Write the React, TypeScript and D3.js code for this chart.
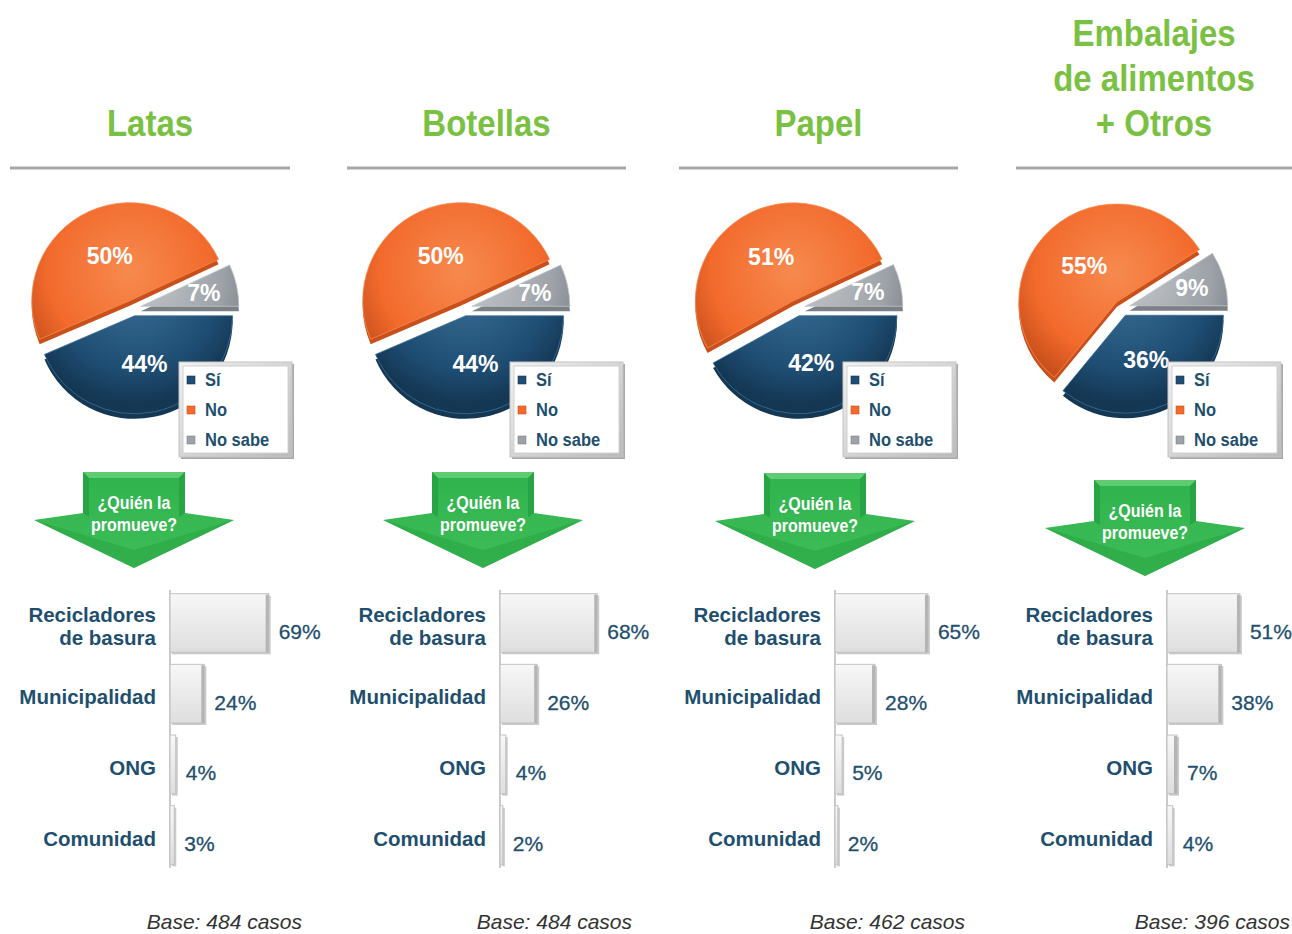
import React, { useEffect, useRef } from 'react';
import * as d3 from 'd3';

// Títulos de cada panel (una entrada por línea)
const titles = [['Latas'], ['Botellas'], ['Papel'], ['Embalajes', 'de alimentos', '+ Otros']];

// Torta: ¿recicla?
const pieLabels = ['Sí', 'No', 'No sabe'];
const siValues = [44, 44, 42, 36];
const noValues = [50, 50, 51, 55];
const noSabeValues = [7, 7, 7, 9];

// Barras: ¿quién la promueve?
const promoters = ['Recicladores de basura', 'Municipalidad', 'ONG', 'Comunidad'];
const recicladoresValues = [69, 68, 65, 51];
const municipalidadValues = [24, 26, 28, 38];
const ongValues = [4, 4, 5, 7];
const comunidadValues = [3, 2, 2, 4];

const baseCases = [484, 484, 462, 396];

// Posiciones de cada panel (solo layout)
const panels = [
  { lineX: [10, 290], pieX: 133, arrowX: 134, arrowY: 472, axisX: 170, baseX: 302 },
  { lineX: [347, 626], pieX: 464, arrowX: 483, arrowY: 472, axisX: 500, baseX: 632 },
  { lineX: [679, 958], pieX: 797, arrowX: 815, arrowY: 473, axisX: 835, baseX: 965 },
  { lineX: [1016, 1292], pieX: 1122, arrowX: 1145, arrowY: 480, axisX: 1167, baseX: 1290 }
];

const COLORS = {
  title: '#7ac143',
  text: '#1f4f6e',
  slices: ['#1f4e74', '#f26a2c', '#9da2a8'],
  slicesLight: ['#3b6f96', '#f78a4f', '#c4c8cc'],
  slicesDark: ['#143754', '#c9501b', '#7b8086'],
  line: '#a8a8a8'
};

const SANS = "'Liberation Sans', Arial, sans-serif";

const W = 1292;
const H = 934;
const R = 98;
const PIE_Y = 308;
const EXPLODE = 8;
const DEPTH = 5;

const App = () => {
  const svgRef = useRef<SVGSVGElement>(null);

  useEffect(() => {
    const svg = d3.select(svgRef.current);
    svg.selectAll('*').remove();
    svg.attr('width', W).attr('height', H);

    const defs = svg.append('defs');

    // Gradientes de las porciones
    COLORS.slices.forEach((c, i) => {
      const rg = defs.append('radialGradient')
        .attr('id', `slice-${i}`)
        .attr('gradientUnits', 'userSpaceOnUse')
        .attr('cx', 0).attr('cy', -R * 0.3).attr('r', R * 1.2);
      rg.append('stop').attr('offset', '0%').attr('stop-color', COLORS.slicesLight[i]);
      rg.append('stop').attr('offset', '70%').attr('stop-color', c);
      rg.append('stop').attr('offset', '100%').attr('stop-color', COLORS.slicesDark[i]);
    });

    const barGrad = defs.append('linearGradient')
      .attr('id', 'bar-grad').attr('x1', 0).attr('y1', 0).attr('x2', 0).attr('y2', 1);
    barGrad.append('stop').attr('offset', '0%').attr('stop-color', '#f7f7f7');
    barGrad.append('stop').attr('offset', '100%').attr('stop-color', '#dedede');

    const arrowGrad = defs.append('linearGradient')
      .attr('id', 'arrow-grad').attr('x1', 0).attr('y1', 0).attr('x2', 0).attr('y2', 1);
    arrowGrad.append('stop').attr('offset', '0%').attr('stop-color', '#2fb34c');
    arrowGrad.append('stop').attr('offset', '100%').attr('stop-color', '#3fbd58');

    const frameGrad = defs.append('linearGradient')
      .attr('id', 'frame-grad').attr('x1', 0).attr('y1', 0).attr('x2', 1).attr('y2', 1);
    frameGrad.append('stop').attr('offset', '0%').attr('stop-color', '#f2f2f2');
    frameGrad.append('stop').attr('offset', '100%').attr('stop-color', '#b9b9b9');

    const pie = d3.pie<number>()
      .sort(null)
      .startAngle(Math.PI / 2)
      .endAngle(Math.PI / 2 + 2 * Math.PI);

    const arc = d3.arc<d3.PieArcDatum<number>>()
      .innerRadius(0)
      .outerRadius(R);

    const x = d3.scaleLinear().domain([0, 100]).range([0, 143]);
    const y = d3.scaleBand<string>()
      .domain(promoters)
      .range([588, 870])
      .paddingInner(0.17)
      .paddingOuter(0.08);

    panels.forEach((p, k) => {
      const g = svg.append('g');

      // Título (letra alta y angosta: se estira en vertical)
      const lines = titles[k];
      const titleX = (p.lineX[0] + p.lineX[1]) / 2;
      lines.forEach((t, li) => {
        g.append('text')
          .attr('transform', `translate(${titleX},${136 - (lines.length - 1 - li) * 45}) scale(1,1.12)`)
          .attr('text-anchor', 'middle')
          .attr('font-family', SANS)
          .attr('font-weight', 'bold')
          .attr('font-size', 33)
          .attr('fill', COLORS.title)
          .text(t);
      });

      g.append('line')
        .attr('x1', p.lineX[0]).attr('x2', p.lineX[1])
        .attr('y1', 168).attr('y2', 168)
        .attr('stroke', COLORS.line)
        .attr('stroke-width', 3);

      // Torta
      const values = [siValues[k], noValues[k], noSabeValues[k]];
      const arcs = pie(values);
      const pieG = g.append('g').attr('transform', `translate(${p.pieX},${PIE_Y})`);

      arcs.forEach((a, i) => {
        const mid = (a.startAngle + a.endAngle) / 2;
        const dx = Math.sin(mid) * EXPLODE;
        const dy = -Math.cos(mid) * EXPLODE;
        const sg = pieG.append('g').attr('transform', `translate(${dx},${dy})`);
        sg.append('path')
          .attr('d', arc(a))
          .attr('transform', `translate(0,${DEPTH})`)
          .attr('fill', COLORS.slicesDark[i]);
        sg.append('path')
          .attr('d', arc(a))
          .attr('fill', `url(#slice-${i})`)
          .attr('stroke', COLORS.slicesLight[i])
          .attr('stroke-width', 0.8);

        const lr = a.data < 15 ? R * 0.66 : R * 0.5;
        sg.append('text')
          .attr('x', Math.sin(mid) * lr)
          .attr('y', -Math.cos(mid) * lr)
          .attr('dy', '0.36em')
          .attr('text-anchor', 'middle')
          .attr('font-family', SANS)
          .attr('font-weight', 'bold')
          .attr('font-size', 23)
          .attr('fill', '#ffffff')
          .text(`${a.data}%`);
      });

      // Leyenda
      const lx = p.pieX + 46;
      const ly = 362;
      const legend = g.append('g').attr('transform', `translate(${lx},${ly})`);
      legend.append('rect')
        .attr('x', 2).attr('y', 2).attr('width', 113).attr('height', 95)
        .attr('fill', '#a9a9a9');
      legend.append('rect')
        .attr('width', 113).attr('height', 95)
        .attr('fill', 'url(#frame-grad)')
        .attr('stroke', '#c4c4c4');
      legend.append('rect')
        .attr('x', 4).attr('y', 4).attr('width', 105).attr('height', 87)
        .attr('fill', '#ffffff')
        .attr('stroke', '#d0d0d0');
      pieLabels.forEach((lab, i) => {
        const ry = 18 + i * 30;
        legend.append('rect')
          .attr('x', 8).attr('y', ry - 4)
          .attr('width', 8).attr('height', 8)
          .attr('fill', COLORS.slices[i])
          .attr('stroke', COLORS.slicesDark[i])
          .attr('stroke-width', 0.6);
        legend.append('text')
          .attr('transform', `translate(26,${ry + 6}) scale(1,1.1)`)
          .attr('font-family', SANS)
          .attr('font-weight', 'bold')
          .attr('font-size', 16.5)
          .attr('fill', COLORS.text)
          .text(lab);
      });

      // Flecha
      const ax = p.arrowX;
      const ay = p.arrowY;
      const arrowPts: [number, number][] = [
        [-51, 0], [51, 0], [51, 41], [100, 48], [0, 96], [-100, 48], [-51, 41]
      ];
      const arrowG = g.append('g').attr('transform', `translate(${ax},${ay})`);
      arrowG.append('path')
        .attr('d', d3.line()(arrowPts) + 'Z')
        .attr('fill', 'url(#arrow-grad)');
      arrowG.append('path')
        .attr('d', d3.line()([[-51, 0], [51, 0], [45, 6], [-45, 6]]) + 'Z')
        .attr('fill', '#5fcb72');
      arrowG.append('path')
        .attr('d', d3.line()([[-51, 0], [-45, 6], [-45, 45], [-51, 41]]) + 'Z')
        .attr('fill', '#27a443');
      arrowG.append('path')
        .attr('d', d3.line()([[51, 0], [45, 6], [45, 45], [51, 41]]) + 'Z')
        .attr('fill', '#27a443');
      arrowG.append('path')
        .attr('d', d3.line()([[-100, 48], [0, 96], [100, 48], [0, 78]]) + 'Z')
        .attr('fill', '#23a140')
        .attr('opacity', 0.5);
      ['¿Quién la', 'promueve?'].forEach((t, i) => {
        arrowG.append('text')
          .attr('transform', `translate(0,${37 + i * 22}) scale(1,1.18)`)
          .attr('text-anchor', 'middle')
          .attr('font-family', SANS)
          .attr('font-weight', 'bold')
          .attr('font-size', 16)
          .attr('fill', '#ffffff')
          .text(t);
      });

      // Barras
      const barValues = [recicladoresValues[k], municipalidadValues[k], ongValues[k], comunidadValues[k]];
      const barG = g.append('g').attr('transform', `translate(${p.axisX},0)`);

      barG.append('line')
        .attr('x1', 0).attr('x2', 0)
        .attr('y1', 590).attr('y2', 868)
        .attr('stroke', '#b8b8b8')
        .attr('stroke-width', 1.5);

      promoters.forEach((name, i) => {
        const v = barValues[i];
        const by = y(name) as number;
        const bh = y.bandwidth();
        const bw = x(v);
        barG.append('rect')
          .attr('x', 2).attr('y', by + 2)
          .attr('width', bw).attr('height', bh)
          .attr('fill', '#a6a6a6')
          .attr('opacity', 0.6);
        barG.append('rect')
          .attr('x', 0).attr('y', by)
          .attr('width', bw).attr('height', bh)
          .attr('fill', 'url(#bar-grad)')
          .attr('stroke', '#c2c2c2')
          .attr('stroke-width', 1);
        if (bw > 8) {
          barG.append('rect')
            .attr('x', bw - 3).attr('y', by + 1)
            .attr('width', 3).attr('height', bh - 1)
            .attr('fill', '#b4b4b4');
        }

        const cy = by + bh / 2;
        const words = name === 'Recicladores de basura' ? ['Recicladores', 'de basura'] : [name];
        words.forEach((w, wi) => {
          barG.append('text')
            .attr('x', -14)
            .attr('y', cy + 10.5 + (wi - (words.length - 1) / 2) * 23.5)
            .attr('text-anchor', 'end')
            .attr('font-family', SANS)
            .attr('font-weight', 'bold')
            .attr('font-size', 20.5)
            .attr('fill', COLORS.text)
            .text(w);
        });

        barG.append('text')
          .attr('x', bw + 10)
          .attr('y', cy + 16)
          .attr('font-family', SANS)
          .attr('font-size', 21)
          .attr('fill', COLORS.text)
          .attr('stroke', COLORS.text)
          .attr('stroke-width', 0.3)
          .text(`${v}%`);
      });

      // Base
      g.append('text')
        .attr('x', p.baseX)
        .attr('y', 929)
        .attr('text-anchor', 'end')
        .attr('font-family', SANS)
        .attr('font-style', 'italic')
        .attr('font-size', 21)
        .attr('fill', '#333333')
        .text(`Base: ${baseCases[k]} casos`);
    });
  }, []);

  return (
    <div style={{ position: 'absolute', left: 0, top: 0, width: W, height: H, background: '#ffffff' }}>
      <svg ref={svgRef} style={{ display: 'block' }} />
    </div>
  );
};

export default App;
